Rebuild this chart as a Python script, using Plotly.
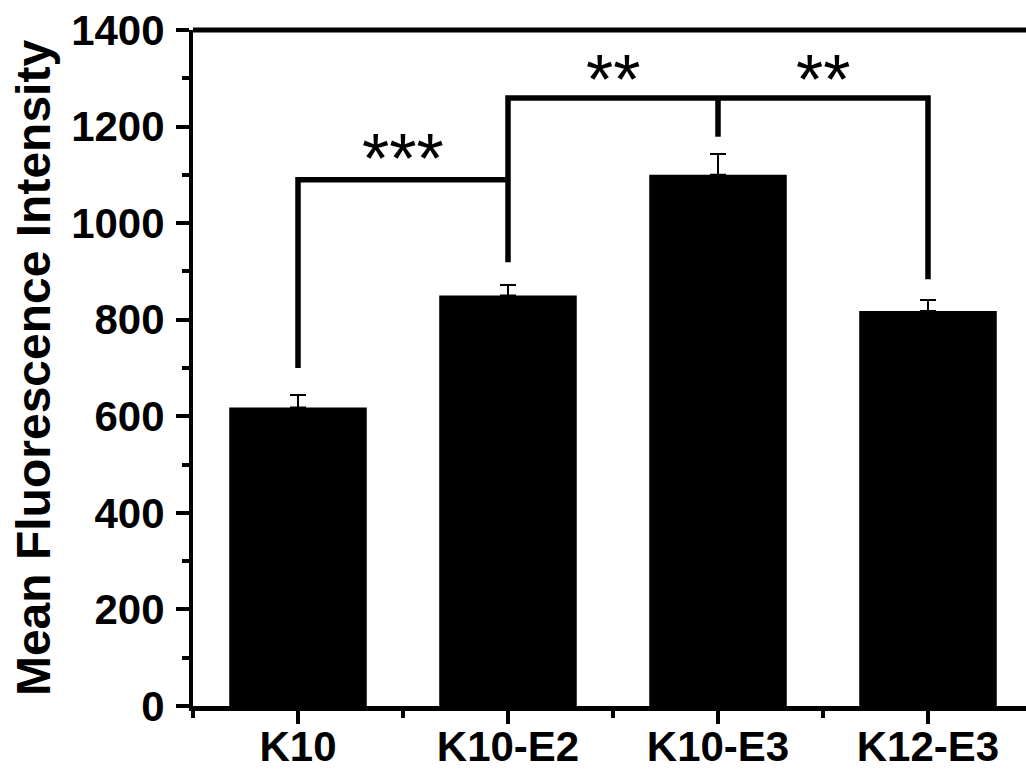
import plotly.graph_objects as go

# ---- data ----
categories = ["K10", "K10-E2", "K10-E3", "K12-E3"]
mean_intensity = [618, 850, 1100, 818]
error_sd = [26, 22, 43, 23]

# significance brackets (data units)
bracket1_y = 1090          # K10 vs K10-E2
bracket1_drop = [700, 1090]  # bottom of K10 leg, K10-E2 end
bracket2_y = 1259          # K10-E2 / K10-E3 / K12-E3
bracket2_drops = [919, 1179, 884]
sig_labels = ["***", "**", "**"]
sig_label_x = [0.5, 1.5, 2.5]
sig_label_y = [1132, 1296, 1296]

y_ticks = [0, 200, 400, 600, 800, 1000, 1200, 1400]

xpos = list(range(len(categories)))

fig = go.Figure()
fig.add_trace(go.Bar(
    x=xpos, y=mean_intensity, width=0.655,
    marker=dict(color="black", line=dict(width=0)),
    error_y=dict(type="data", array=error_sd, arrayminus=[0]*len(error_sd),
                 color="black", thickness=2, width=8, visible=True),
    showlegend=False,
))

line_style = dict(color="black", width=5.5)
# bracket 1
fig.add_trace(go.Scatter(
    x=[xpos[0], xpos[0], xpos[1]],
    y=[bracket1_drop[0], bracket1_y, bracket1_y],
    mode="lines", line=line_style, showlegend=False, hoverinfo="skip"))
# bracket 2
fig.add_trace(go.Scatter(
    x=[xpos[1], xpos[1], xpos[3], xpos[3]],
    y=[bracket2_drops[0], bracket2_y, bracket2_y, bracket2_drops[2]],
    mode="lines", line=line_style, showlegend=False, hoverinfo="skip"))
fig.add_trace(go.Scatter(
    x=[xpos[2], xpos[2]],
    y=[bracket2_y, bracket2_drops[1]],
    mode="lines", line=line_style, showlegend=False, hoverinfo="skip"))

for t, sx, sy in zip(sig_labels, sig_label_x, sig_label_y):
    fig.add_annotation(x=sx, y=sy, text=t, showarrow=False, xref="x", yref="y",
                       xanchor="center", yanchor="middle",
                       font=dict(family="Liberation Sans, Arial", size=70, color="black"))

fig.add_annotation(xref="paper", yref="paper", x=-0.192, y=0.5,
                   text="Mean Fluorescence Intensity", textangle=-90, showarrow=False,
                   xanchor="center", yanchor="middle",
                   font=dict(family="Liberation Sans, Arial", size=48, color="black", weight="bold"))

# top frame line (plot box top edge)
fig.add_shape(type="line", xref="paper", yref="paper", x0=0, x1=1.01, y0=1, y1=1,
              line=dict(color="black", width=5))

fig.update_layout(
    width=1026, height=769,
    margin=dict(l=193, r=0, t=30, b=63, autoexpand=False),
    plot_bgcolor="white", paper_bgcolor="white",
    bargap=0.3,
)
fig.update_xaxes(
    automargin=False,
    range=[-0.5, 3.4667], tickmode="array", tickvals=xpos, ticktext=categories,
    showline=True, linecolor="black", linewidth=5, mirror=False,
    ticks="outside", ticklen=13, tickwidth=4, tickcolor="black",
    minor=dict(ticks="outside", tick0=-0.5, dtick=1, ticklen=7, tickwidth=4,
               tickcolor="black", showgrid=False),
    tickfont=dict(family="Liberation Sans, Arial", size=42, color="black", weight="bold"),
    ticklabelstandoff=-13,
    showgrid=False, zeroline=False,
)
fig.update_yaxes(
    automargin=False,
    range=[0, 1400], tickmode="array", tickvals=y_ticks,
    showline=True, linecolor="black", linewidth=4, mirror=False,
    ticks="outside", ticklen=13, tickwidth=4, tickcolor="black",
    minor=dict(ticks="outside", dtick=100, tick0=0, ticklen=7, tickwidth=4,
               tickcolor="black", showgrid=False),
    tickfont=dict(family="Liberation Sans, Arial", size=42, color="black", weight="bold"),
    ticklabelstandoff=3,
    showgrid=False, zeroline=False,
)

fig.write_html("out.html", config={"displayModeBar": False},
               post_script="document.body.style.margin='0';document.body.style.overflow='hidden';")
